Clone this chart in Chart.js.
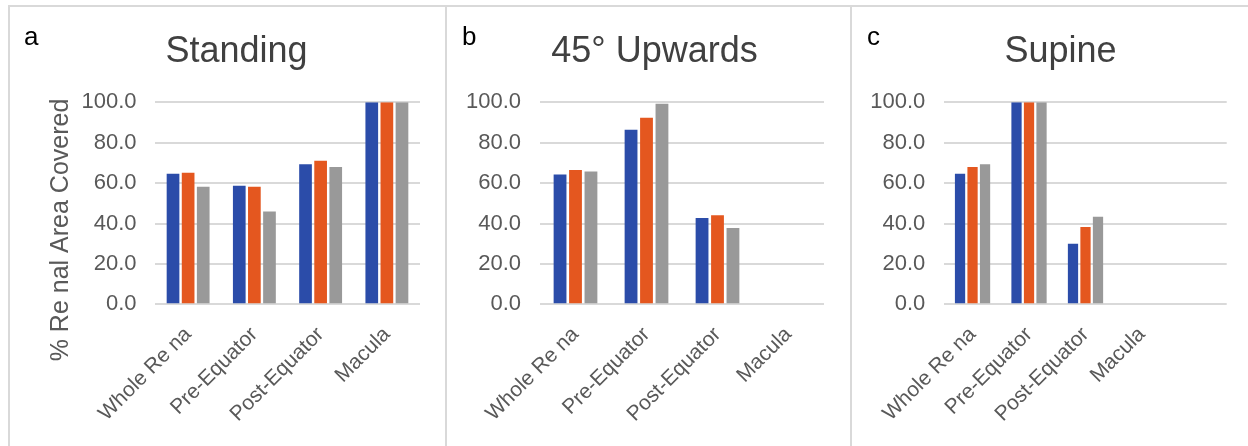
<!DOCTYPE html>
<html>
<head>
<meta charset="utf-8">
<script src="https://cdn.jsdelivr.net/npm/chart.js@4.4.1/dist/chart.umd.min.js"></script>
<style>
  html, body { margin: 0; padding: 0; background: #fff; width: 1248px; height: 446px; overflow: hidden; }
  body { position: relative; }
  canvas { position: absolute; }
  .rule { position: absolute; background: #d9d9d9; }
</style>
</head>
<body>
<canvas id="standing"></canvas>
<canvas id="upwards"></canvas>
<canvas id="supine"></canvas>
<div class="rule" style="left:8px; top:5px; width:1240px; height:2px;"></div>
<div class="rule" style="left:8px; top:5px; width:2px; height:441px;"></div>
<div class="rule" style="left:445px; top:5px; width:2px; height:441px;"></div>
<div class="rule" style="left:850px; top:5px; width:2px; height:441px;"></div>
<script>
// Retinal regions on the x axis
const categories = ['Whole Re na', 'Pre-Equator', 'Post-Equator', 'Macula'];
// the supine panel keeps one extra, empty slot at the end of its axis
const categoriesSupine = ['Whole Re na', 'Pre-Equator', 'Post-Equator', 'Macula', ''];
const seriesNames = ['Series 1', 'Series 2', 'Series 3'];

// % retinal area covered, standing
const standingSeries1 = [64.6, 58.7, 69.3, 100.0];
const standingSeries2 = [65.1, 58.2, 71.1, 100.0];
const standingSeries3 = [58.2, 46.0, 68.0, 100.0];

// % retinal area covered, 45° upwards
const upwardsSeries1 = [64.2, 86.4, 42.7, 0];
const upwardsSeries2 = [66.5, 92.4, 44.1, 0];
const upwardsSeries3 = [65.8, 99.3, 37.8, 0];

// % retinal area covered, supine
const supineSeries1 = [64.6, 100.0, 30.0, 0, null];
const supineSeries2 = [68.0, 100.0, 38.3, 0, null];
const supineSeries3 = [69.3, 100.0, 43.4, 0, null];

const yTicks = [0, 20, 40, 60, 80, 100];

const FONT = '"Liberation Sans", Arial, Helvetica, sans-serif';
const BAR_COLORS = ['#2b4ca9', '#e4571f', '#999999'];
const TICK_COLOR = '#595959';
const GRID_COLOR = '#d9d9d9';

// Panel letter, heading and (first panel only) the vertical axis caption
const headingPlugin = {
  id: 'heading',
  afterDraw(chart, args, opts) {
    const ctx = chart.ctx;
    const ox = opts.originX, oy = opts.originY;
    ctx.save();
    ctx.textBaseline = 'alphabetic';
    ctx.fillStyle = '#000000';
    ctx.font = '26px ' + FONT;
    ctx.textAlign = 'left';
    ctx.fillText(opts.letter, opts.letterX - ox, opts.letterY - oy);
    ctx.fillStyle = '#404040';
    ctx.font = '36px ' + FONT;
    ctx.textAlign = 'center';
    ctx.fillText(opts.title, opts.titleX - ox, opts.titleY - oy);
    if (opts.yTitle) {
      ctx.translate(opts.yTitleX - ox, opts.yTitleY - oy);
      ctx.rotate(-Math.PI / 2);
      ctx.fillStyle = TICK_COLOR;
      ctx.font = '25px ' + FONT;
      ctx.textAlign = 'center';
      ctx.fillText(opts.yTitle, 0, 0);
    }
    ctx.restore();
  }
};

function makePanel(p) {
  const cv = document.getElementById(p.id);
  cv.width = p.box.w;
  cv.height = p.box.h;
  cv.style.left = p.box.x + 'px';
  cv.style.top = p.box.y + 'px';
  const left = p.plot.l - p.box.x;
  const right = p.plot.r - p.box.x;
  const top = p.plot.t - p.box.y;
  const bottom = p.plot.b - p.box.y;

  return new Chart(cv, {
    type: 'bar',
    data: {
      labels: p.labels,
      datasets: p.series.map((values, i) => ({
        label: seriesNames[i],
        data: values,
        backgroundColor: BAR_COLORS[i],
        borderWidth: 0,
        barPercentage: p.barPct,
        categoryPercentage: p.catPct
      }))
    },
    options: {
      responsive: false,
      animation: false,
      events: [],
      layout: { padding: { left: 0, top: top, right: p.box.w - right, bottom: 0 } },
      plugins: {
        legend: { display: false },
        tooltip: { enabled: false },
        title: { display: false },
        heading: Object.assign({ originX: p.box.x, originY: p.box.y }, p.heading)
      },
      scales: {
        x: {
          grid: { display: false },
          border: { display: false },
          ticks: {
            autoSkip: false,
            minRotation: 45,
            maxRotation: 45,
            padding: p.xPad,
            color: TICK_COLOR,
            font: { family: FONT, size: 21 }
          },
          afterFit: s => { s.height = p.box.h - bottom; }
        },
        y: {
          min: yTicks[0],
          max: yTicks[yTicks.length - 1],
          grid: { color: GRID_COLOR, lineWidth: 2, drawTicks: false },
          border: { display: false },
          afterBuildTicks: s => { s.ticks = yTicks.map(v => ({ value: v })); },
          ticks: {
            padding: p.yPad,
            color: TICK_COLOR,
            font: { family: FONT, size: 22 },
            callback: v => Number(v).toFixed(1)
          },
          afterFit: s => { s.width = left; }
        }
      }
    },
    plugins: [headingPlugin]
  });
}

makePanel({
  id: 'standing',
  box: { x: 10, y: 7, w: 435, h: 439 },
  plot: { l: 155, r: 420, t: 102.3, b: 304.3 },
  labels: categories,
  series: [standingSeries1, standingSeries2, standingSeries3],
  catPct: 0.684, barPct: 0.84, xPad: 10, yPad: 18.5,
  heading: { letter: 'a', letterX: 24, letterY: 45, title: 'Standing', titleX: 236.5, titleY: 62,
             yTitle: '% Re nal Area Covered', yTitleX: 68, yTitleY: 230 }
});

makePanel({
  id: 'upwards',
  box: { x: 448, y: 7, w: 402, h: 439 },
  plot: { l: 540, r: 824, t: 102.3, b: 304.3 },
  labels: categories,
  series: [upwardsSeries1, upwardsSeries2, upwardsSeries3],
  catPct: 0.653, barPct: 0.83, xPad: 10, yPad: 19,
  heading: { letter: 'b', letterX: 462, letterY: 45, title: '45° Upwards', titleX: 654.5, titleY: 62 }
});

makePanel({
  id: 'supine',
  box: { x: 852, y: 7, w: 396, h: 439 },
  plot: { l: 944.3, r: 1226.7, t: 102.3, b: 304.3 },
  labels: categoriesSupine,
  series: [supineSeries1, supineSeries2, supineSeries3],
  catPct: 0.664, barPct: 0.82, xPad: 10, yPad: 19,
  heading: { letter: 'c', letterX: 867, letterY: 45, title: 'Supine', titleX: 1060.5, titleY: 62 }
});
</script>
</body>
</html>
